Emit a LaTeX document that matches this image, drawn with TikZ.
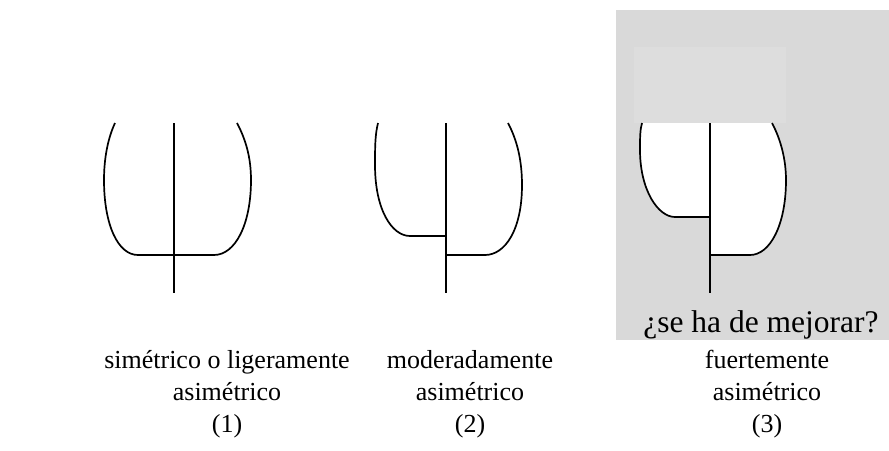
\documentclass[tikz,border=0pt]{standalone}
\usepackage{fontspec}
\setmainfont{Liberation Serif}
\definecolor{panelgray}{HTML}{D9D9D9}
\definecolor{lightgray2}{HTML}{DDDDDD}
\tikzset{
  outline/.style={draw=black, line width=1.7pt, line join=round},
  trunk/.style={draw=black, line width=1.7pt},
  label/.style={align=center, anchor=north, inner sep=0pt, font=\fontsize{26}{32}\selectfont},
  qlabel/.style={anchor=base, inner sep=0pt, font=\fontsize{31.5}{36}\selectfont},
}
\begin{document}
\begin{tikzpicture}[x=1pt,y=-1pt]
\useasboundingbox (0,0) rectangle (889,450);
\fill[white] (0,0) rectangle (889,450);
% gray panel
\fill[panelgray] (616,10) rectangle (889,340);
\fill[lightgray2] (634,47) rectangle (786,123);

% tree 1
\draw[outline] (115,123) .. controls (108,138) and (104,158) .. (104,180)
  .. controls (104,225) and (118,255) .. (138,255) -- (214,255)
  .. controls (235,255) and (251,225) .. (251,180)
  .. controls (251,158) and (246,140) .. (237,123);
\draw[trunk] (174,123) -- (174,293);

% tree 2
\draw[outline] (378,123) .. controls (375,135) and (375,148) .. (375,165)
  .. controls (375,210) and (392,236) .. (410,236) -- (446,236);
\draw[outline] (446,255) -- (485,255)
  .. controls (505,255) and (522,230) .. (522,185)
  .. controls (522,160) and (517,140) .. (508,123);
\draw[trunk] (446,123) -- (446,293);

% tree 3
\fill[white] (642,123) .. controls (640,130) and (640,138) .. (640,150)
  .. controls (640,190) and (658,217) .. (675,217) -- (710,217) -- (710,255) -- (750,255)
  .. controls (770,255) and (786,225) .. (786,180)
  .. controls (786,160) and (781,140) .. (772,123) -- cycle;
\draw[outline] (642,123) .. controls (640,130) and (640,138) .. (640,150)
  .. controls (640,190) and (658,217) .. (675,217) -- (710,217);
\draw[outline] (710,255) -- (750,255)
  .. controls (770,255) and (786,225) .. (786,180)
  .. controls (786,160) and (781,140) .. (772,123);
\draw[trunk] (710,123) -- (710,293);

% labels
\node[qlabel] (q) at (761,332) {¿se ha de mejorar?};
\node[label] (l1) at (227,350) {simétrico o ligeramente\\asimétrico\\(1)};
\node[label] (l2) at (470,350) {moderadamente\\asimétrico\\(2)};
\node[label] (l3) at (767,350) {fuertemente\\asimétrico\\(3)};
\end{tikzpicture}
\end{document}
